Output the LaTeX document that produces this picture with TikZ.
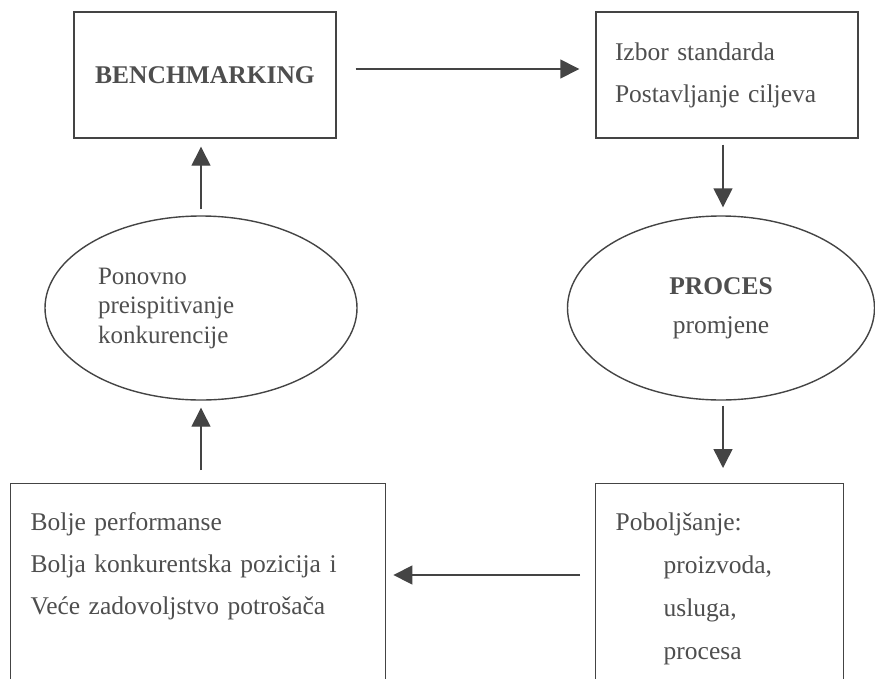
\documentclass[tikz,border=0pt]{standalone}
\usepackage{fontspec}
\setmainfont{Liberation Serif}
\usepackage{tikz}
\usetikzlibrary{positioning,shapes.geometric,arrows.meta}
\definecolor{inkgray}{HTML}{4E4E4E}
\definecolor{linegray}{HTML}{444444}

\begin{document}
\begin{tikzpicture}[x=1pt,y=-1pt]
          \tikzset{box/.style = {draw=linegray, line width=1.4pt, rectangle, inner sep=0pt,
                     text=inkgray, font=\fontsize{25.5}{42}\selectfont}}
          \tikzset{oval/.style = {draw=linegray, line width=1.4pt, ellipse, inner sep=0pt,
                     text=inkgray, minimum height=184pt}}
          \tikzset{arr/.style = {draw=linegray, line width=1.4pt,
                     -{Triangle[length=19pt,width=19pt]}}}

          \useasboundingbox (0,0) rectangle (875,678);
          \clip (0,0) rectangle (875,678);

          \node[box, minimum width=262pt, minimum height=126pt, font=\fontsize{25.5}{42}\selectfont\bfseries]
               (bench) at (205,75) {BENCHMARKING};
          \node[box, minimum height=126pt, text width=224pt, inner xsep=19pt, align=left]
               (izbor) at (727,75) {Izbor standarda\\Postavljanje ciljeva};
          \node[oval, minimum width=307pt, align=center, font=\fontsize{25.5}{39}\selectfont]
               (proces) at (721,308) {{\bfseries PROCES}\\promjene};
          \node[oval, minimum width=312pt, text width=206pt, align=left, font=\fontsize{25}{29.5}\selectfont]
               (ponovno) at (201,308) {Ponovno\\preispitivanje\\konkurencije};
          \node[box, anchor=north west, text width=208pt, inner xsep=20pt, inner ysep=29pt, align=left,
                font=\fontsize{25.5}{43}\selectfont]
               (pob) at (595,483) {Poboljšanje:\\\hspace*{48pt}proizvoda,\\\hspace*{48pt}usluga,\\\hspace*{48pt}procesa};
          \node[box, anchor=north west, text width=335pt, inner xsep=20pt, inner ysep=29pt, align=left]
               (bolje) at (10,483) {Bolje performanse\\Bolja konkurentska pozicija i\\Veće zadovoljstvo potrošača\\\mbox{}};

          \draw[arr, shorten <=19pt, shorten >=16pt] ([yshift=6pt]bench.east) -- ([yshift=6pt]izbor.west);
          \draw[arr, shorten <=6pt, shorten >=8pt] (izbor.south -| 723,0) -- (proces.north -| 723,0);
          \draw[arr, shorten <=5pt, shorten >=15pt] (proces.south -| 723,0) -- (pob.north -| 723,0);
          \draw[arr, shorten <=15pt, shorten >=7pt] ([yshift=-92pt]pob.north west) -- ([yshift=-92pt]bolje.north east);
          \draw[arr, shorten <=13pt, shorten >=7pt] (bolje.north -| ponovno.south) -- (ponovno.south);
          \draw[arr, shorten <=6pt, shorten >=8pt] (ponovno.north) -- (bench.south -| ponovno.north);
\end{tikzpicture}
\end{document}
